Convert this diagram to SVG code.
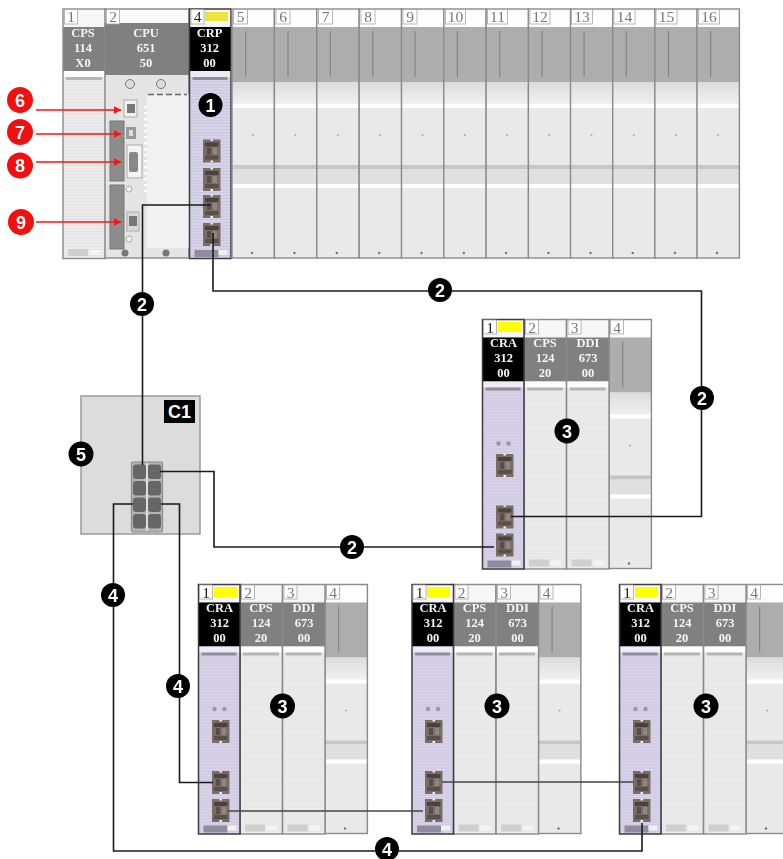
<svg xmlns="http://www.w3.org/2000/svg" width="783" height="859" viewBox="0 0 783 859">
<style>
.num{font:15.5px "Liberation Serif",serif;fill:#777;text-anchor:middle;filter:url(#tx)}
.numk{font:15.5px "Liberation Serif",serif;fill:#222;text-anchor:middle;filter:url(#tx)}
.hd{font:bold 12.5px "Liberation Serif",serif;fill:#f4f4f4;text-anchor:middle;filter:url(#tx)}
.bub{font:bold 18px "Liberation Sans",sans-serif;fill:#fff;text-anchor:middle}
.box{fill:#fff;stroke:#a5a5a5;stroke-width:.8}
.wire{fill:none;stroke:#1a1a1a;stroke-width:1.6}
.wire2{fill:none;stroke:#444;stroke-width:1.6}
.red{stroke:#f01818;stroke-width:1.5;fill:none;marker-end:url(#ah)}
</style>
<defs>
<filter id="soft" x="-5%" y="-5%" width="110%" height="110%"><feGaussianBlur stdDeviation="0.6"/></filter>
<filter id="tx" x="-10%" y="-10%" width="120%" height="120%"><feGaussianBlur stdDeviation="0.3"/></filter>
<marker id="ah" viewBox="0 0 8 8" refX="7.5" refY="4" markerWidth="8" markerHeight="8" markerUnits="userSpaceOnUse" orient="auto"><path d="M0 0L8 4L0 8Z" fill="#f01818"/></marker>
<pattern id="ln" width="4" height="3" patternUnits="userSpaceOnUse"><rect width="4" height="3" fill="#ebebeb"/><rect width="4" height=".8" fill="#e3e3e3"/></pattern>
<pattern id="lnp" width="4" height="3" patternUnits="userSpaceOnUse"><rect width="4" height="3" fill="#d6d2e8"/><rect width="4" height=".8" fill="#cbc6e0"/></pattern>
<linearGradient id="fade" x1="0" y1="0" x2="0" y2="1"><stop offset="0" stop-color="#dcdcdc"/><stop offset="1" stop-color="#f2f2f2"/></linearGradient>
<g id="empty">
<rect width="42.4" height="249" fill="#e9e9e9"/>
<rect y="0" width="42.4" height="18" fill="#fdfdfd"/>
<rect y="18" width="42.4" height="55" fill="#adadad"/>
<rect x="13" y="22" width="1.2" height="46" fill="#858585"/>
<rect y="73" width="42.4" height="24" fill="url(#fade)"/>
<rect y="95" width="42.4" height="4" fill="#fff"/>
<rect y="156" width="42.4" height="4" fill="#c6c6c6"/>
<rect y="160" width="42.4" height="15" fill="#e0e0e0"/>
<rect y="175" width="42.4" height="4" fill="#fff"/>
<circle cx="21" cy="126" r="1" fill="#aaa"/><circle cx="20" cy="244" r="1.2" fill="#777"/>
<rect width="42.4" height="249" fill="none" stroke="#8a8a8a" stroke-width="1.4"/>
</g>
<g id="gray">
<rect width="42.4" height="249.500" fill="url(#ln)"/>
<rect width="42.4" height="18" fill="#f6f6f6"/>
<rect y="18" width="42.4" height="44" fill="#808080"/>
<rect y="62" width="42.4" height="6" fill="#fff"/>
<rect x="3" y="68" width="36" height="3" fill="#b5b5b5"/>
<rect x="5" y="240" width="20" height="7" fill="#cfcfcf"/><rect x="27" y="241" width="10" height="5" fill="#f4f4f4"/>
<rect width="42.4" height="249.500" fill="none" stroke="#8a8a8a" stroke-width="1.4"/>
</g>
<g id="purple">
<rect width="41.500" height="249.500" fill="url(#lnp)"/>
<rect width="41.500" height="18" fill="#f6f6f6"/>
<rect y="18" width="41.500" height="44" fill="#000"/>
<rect y="62" width="41.500" height="6" fill="#eeeaf6"/>
<rect x="3" y="68" width="35" height="3" fill="#8f8c9c"/>
<rect x="5" y="241" width="24" height="7" fill="#8e8c9e"/><rect x="29" y="241" width="9" height="5" fill="#f0f0f0"/>
<rect width="41.500" height="249.500" fill="none" stroke="#3a3a3a" stroke-width="1.5"/>
</g>
<g id="port">
<rect width="17.500" height="23" fill="#7a6c66"/>
<rect x="2" y="3" width="13.500" height="4" fill="#4c4340"/>
<rect x="2" y="16" width="13.500" height="4" fill="#5a4f4a"/>
<rect x="4" y="8" width="4" height="7" fill="#584d48"/><rect x="10" y="8" width="4" height="7" fill="#92867f"/>
<rect x="7.500" y="0" width="2.500" height="1.500" fill="#f2f2f2"/><rect x="7.500" y="21" width="2.500" height="2" fill="#f2f2f2"/>
</g>
<g id="swp"><rect width="13" height="14.500" rx="3" fill="#666"/></g>
</defs>

<g id="rack-main">
<g filter="url(#soft)">
<use href="#gray" x="63" y="9"/>
<rect x="105" y="9" width="84" height="249" fill="#e4e4e4" stroke="#8a8a8a" stroke-width="1.4"/>
<rect x="106" y="10" width="82" height="13" fill="#fafafa"/>
<rect x="105" y="23" width="84" height="52" fill="#808080"/>
<rect x="147" y="94" width="42" height="154" fill="#f1f1f1"/>
<path d="M148 94.500H187" stroke="#666" stroke-width="1.500" stroke-dasharray="6 3"/>
<path d="M145.500 106V196" stroke="#fff" stroke-width="2.500" stroke-dasharray="2.500 3.500"/>
<rect x="110" y="121" width="14" height="60" fill="#8c8c8c" stroke="#777"/>
<rect x="110" y="185" width="14" height="64" fill="#8c8c8c" stroke="#777"/>
<rect x="124" y="100" width="13" height="17" fill="#f2f2f2" stroke="#aaa"/><rect x="127" y="104" width="8" height="9" fill="#777"/>
<rect x="126" y="127" width="10" height="12" fill="#9a9a9a"/><rect x="129" y="130" width="4" height="6" fill="#ddd"/>
<rect x="127" y="145" width="15" height="33" fill="#f4f4f4" stroke="#aaa"/><rect x="129" y="152" width="9" height="20" rx="2" fill="#888"/>
<rect x="127" y="212" width="12" height="19" fill="#d9d9d9" stroke="#aaa"/><rect x="129" y="216" width="8" height="10" fill="#777"/>
<circle cx="130" cy="84" r="4.500" fill="#ddd" stroke="#777"/><circle cx="161" cy="84" r="4.500" fill="#ddd" stroke="#777"/>
<circle cx="125" cy="253" r="3.500" fill="#777"/><circle cx="166" cy="253" r="3.500" fill="#777"/>
<circle cx="129" cy="189" r="3" fill="#f4f4f4" stroke="#aaa"/><circle cx="129" cy="239" r="3" fill="#f4f4f4" stroke="#aaa"/>
<use href="#purple" x="189.500" y="9"/>
<rect x="205" y="12" width="23" height="9" fill="#ece33c"/>
<use href="#port" x="203" y="139.500"/><use href="#port" x="203" y="168"/><use href="#port" x="203" y="195"/><use href="#port" x="203" y="223"/>
<use href="#empty" x="232" y="9"/><use href="#empty" x="274.400" y="9"/><use href="#empty" x="316.800" y="9"/><use href="#empty" x="359.200" y="9"/><use href="#empty" x="401.500" y="9"/><use href="#empty" x="443.800" y="9"/><use href="#empty" x="486.100" y="9"/><use href="#empty" x="528.400" y="9"/><use href="#empty" x="570.500" y="9"/><use href="#empty" x="612.700" y="9"/><use href="#empty" x="654.900" y="9"/><use href="#empty" x="697" y="9"/>
</g>
<rect class="box" x="64.500" y="9.500" width="13" height="14.500"/><rect class="box" x="106.500" y="9.500" width="13" height="14.500"/><rect class="box" x="191" y="9.500" width="13" height="14.500"/><rect class="box" x="233.500" y="9.500" width="14" height="14.500"/><rect class="box" x="276" y="9.500" width="14" height="14.500"/><rect class="box" x="318.500" y="9.500" width="14" height="14.500"/><rect class="box" x="361" y="9.500" width="14" height="14.500"/><rect class="box" x="403" y="9.500" width="14" height="14.500"/><rect class="box" x="445.500" y="9.500" width="20" height="14.500"/><rect class="box" x="487.500" y="9.500" width="20" height="14.500"/><rect class="box" x="530" y="9.500" width="20" height="14.500"/><rect class="box" x="571.500" y="9.500" width="21" height="14.500"/><rect class="box" x="614" y="9.500" width="21" height="14.500"/><rect class="box" x="656" y="9.500" width="21" height="14.500"/><rect class="box" x="698.500" y="9.500" width="21" height="14.500"/>
<text class="num" x="71" y="22">1</text><text class="num" x="113" y="22">2</text><text class="numk" x="197.500" y="22">4</text><text class="num" x="240.500" y="22">5</text><text class="num" x="283" y="22">6</text><text class="num" x="325.500" y="22">7</text><text class="num" x="368" y="22">8</text><text class="num" x="410" y="22">9</text><text class="num" x="455.500" y="22">10</text><text class="num" x="497.500" y="22">11</text><text class="num" x="540" y="22">12</text><text class="num" x="582" y="22">13</text><text class="num" x="624.500" y="22">14</text><text class="num" x="666.500" y="22">15</text><text class="num" x="709" y="22">16</text>
<text class="hd" x="83" y="36.500">CPS</text><text class="hd" x="83" y="51.500">114</text><text class="hd" x="83" y="66.500">X0</text>
<text class="hd" x="146" y="36.500">CPU</text><text class="hd" x="146" y="51.500">651</text><text class="hd" x="146" y="66.500">50</text>
<text class="hd" x="209.500" y="36.500">CRP</text><text class="hd" x="209.500" y="51.500">312</text><text class="hd" x="209.500" y="66.500">00</text>
</g>

<g id="rack-a">
<g filter="url(#soft)">
<use href="#empty" x="609" y="319.500"/><use href="#gray" x="524" y="319.500"/><use href="#gray" x="566.600" y="319.500"/><use href="#purple" x="482.500" y="319.500"/>
<rect x="498" y="322" width="23" height="10" fill="#ffff00"/><circle cx="498.500" cy="443.500" r="2.200" fill="#9a98a8"/><circle cx="508.500" cy="443.500" r="2.200" fill="#9a98a8"/>
<use href="#port" x="496" y="454"/><use href="#port" x="496" y="505.500"/><use href="#port" x="496" y="533.500"/>
</g>
<rect class="box" x="483.500" y="320" width="13" height="14"/><rect class="box" x="525.500" y="320" width="13" height="14"/><rect class="box" x="568" y="320" width="13" height="14"/><rect class="box" x="610.500" y="320" width="13" height="14"/>
<text class="numk" x="490" y="333">1</text><text class="num" x="532" y="333">2</text><text class="num" x="574.500" y="333">3</text><text class="num" x="617" y="333">4</text>
<text class="hd" x="503.500" y="347">CRA</text><text class="hd" x="503.500" y="362">312</text><text class="hd" x="503.500" y="377">00</text>
<text class="hd" x="545" y="347">CPS</text><text class="hd" x="545" y="362">124</text><text class="hd" x="545" y="377">20</text>
<text class="hd" x="588" y="347">DDI</text><text class="hd" x="588" y="362">673</text><text class="hd" x="588" y="377">00</text>
</g>

<g id="rack-b">
<g filter="url(#soft)">
<use href="#empty" x="325" y="584.500"/><use href="#gray" x="240" y="584.500"/><use href="#gray" x="282.600" y="584.500"/><use href="#purple" x="198.500" y="584.500"/>
<rect x="214" y="587" width="23" height="10" fill="#ffff00"/><circle cx="214.500" cy="709" r="2.200" fill="#9a98a8"/><circle cx="224.500" cy="709" r="2.200" fill="#9a98a8"/>
<use href="#port" x="212" y="720"/><use href="#port" x="212" y="771"/><use href="#port" x="212" y="799"/>
</g>
<rect class="box" x="199.500" y="585" width="13" height="14"/><rect class="box" x="241.500" y="585" width="13" height="14"/><rect class="box" x="284" y="585" width="13" height="14"/><rect class="box" x="326.500" y="585" width="13" height="14"/>
<text class="numk" x="206" y="598">1</text><text class="num" x="248" y="598">2</text><text class="num" x="290.500" y="598">3</text><text class="num" x="333" y="598">4</text>
<text class="hd" x="219.500" y="612">CRA</text><text class="hd" x="219.500" y="627">312</text><text class="hd" x="219.500" y="642">00</text>
<text class="hd" x="261" y="612">CPS</text><text class="hd" x="261" y="627">124</text><text class="hd" x="261" y="642">20</text>
<text class="hd" x="304" y="612">DDI</text><text class="hd" x="304" y="627">673</text><text class="hd" x="304" y="642">00</text>
</g>

<g id="rack-c">
<g filter="url(#soft)">
<use href="#empty" x="538.500" y="584.500"/><use href="#gray" x="453.500" y="584.500"/><use href="#gray" x="496.100" y="584.500"/><use href="#purple" x="412" y="584.500"/>
<rect x="427" y="587" width="23" height="10" fill="#ffff00"/><circle cx="428" cy="709" r="2.200" fill="#9a98a8"/><circle cx="438" cy="709" r="2.200" fill="#9a98a8"/>
<use href="#port" x="425" y="720"/><use href="#port" x="425" y="771"/><use href="#port" x="425" y="799"/>
</g>
<rect class="box" x="413" y="585" width="13" height="14"/><rect class="box" x="455" y="585" width="13" height="14"/><rect class="box" x="497.500" y="585" width="13" height="14"/><rect class="box" x="540" y="585" width="13" height="14"/>
<text class="numk" x="419.500" y="598">1</text><text class="num" x="461.500" y="598">2</text><text class="num" x="504" y="598">3</text><text class="num" x="546.500" y="598">4</text>
<text class="hd" x="433" y="612">CRA</text><text class="hd" x="433" y="627">312</text><text class="hd" x="433" y="642">00</text>
<text class="hd" x="474.500" y="612">CPS</text><text class="hd" x="474.500" y="627">124</text><text class="hd" x="474.500" y="642">20</text>
<text class="hd" x="517.500" y="612">DDI</text><text class="hd" x="517.500" y="627">673</text><text class="hd" x="517.500" y="642">00</text>
</g>

<g id="rack-d">
<g filter="url(#soft)">
<use href="#empty" x="746" y="584.500"/><use href="#gray" x="661" y="584.500"/><use href="#gray" x="703.600" y="584.500"/><use href="#purple" x="619.500" y="584.500"/>
<rect x="635" y="587" width="23" height="10" fill="#ffff00"/><circle cx="635.500" cy="709" r="2.200" fill="#9a98a8"/><circle cx="645.500" cy="709" r="2.200" fill="#9a98a8"/>
<use href="#port" x="633" y="720"/><use href="#port" x="633" y="771"/><use href="#port" x="633" y="799"/>
</g>
<rect class="box" x="620.500" y="585" width="13" height="14"/><rect class="box" x="662.500" y="585" width="13" height="14"/><rect class="box" x="705" y="585" width="13" height="14"/><rect class="box" x="747.500" y="585" width="13" height="14"/>
<text class="numk" x="627" y="598">1</text><text class="num" x="669" y="598">2</text><text class="num" x="711.500" y="598">3</text><text class="num" x="754" y="598">4</text>
<text class="hd" x="640.500" y="612">CRA</text><text class="hd" x="640.500" y="627">312</text><text class="hd" x="640.500" y="642">00</text>
<text class="hd" x="682" y="612">CPS</text><text class="hd" x="682" y="627">124</text><text class="hd" x="682" y="642">20</text>
<text class="hd" x="725" y="612">DDI</text><text class="hd" x="725" y="627">673</text><text class="hd" x="725" y="642">00</text>
</g>

<g id="switch-c1">
<rect x="81" y="396" width="119" height="138" fill="#dcdcdc" stroke="#9a9a9a" stroke-width="1.500"/>
<rect x="164" y="400" width="31" height="23" fill="#000"/>
<text x="179.500" y="418" font-family="Liberation Sans, sans-serif" font-weight="bold" font-size="18" fill="#fff" text-anchor="middle">C1</text>
<rect x="131.500" y="462" width="31" height="70" rx="1.500" fill="#b4b4b4" stroke="#8a8a8a" stroke-width="1.200"/>
<rect x="146.300" y="463" width="1.400" height="68" fill="#eee"/>
<use href="#swp" x="133" y="464.500"/><use href="#swp" x="148" y="464.500"/><use href="#swp" x="133" y="481"/><use href="#swp" x="148" y="481"/><use href="#swp" x="133" y="497.500"/><use href="#swp" x="148" y="497.500"/><use href="#swp" x="133" y="514"/><use href="#swp" x="148" y="514"/>
</g>

<g id="connectors">
<path class="wire" d="M211 205H142.500V465"/>
<path class="wire" d="M213 233V291H701.500V516.500H511"/>
<path class="wire" d="M160 471.500H214V547H494"/>
<path class="wire" d="M133 504H113.500V851H642V823"/>
<path class="wire" d="M161 504H179.500V782.500H213"/>
<path class="wire2" d="M228 811H423"/>
<path class="wire2" d="M442 782H633"/>
<path class="red" d="M36 110H121"/>
<path class="red" d="M36 134H121"/>
<path class="red" d="M36 162H121"/>
<path class="red" d="M36 222H121"/>
</g>

<g id="callout-1"><circle cx="210.500" cy="105" r="12" fill="#000"/><text class="bub" x="210.500" y="111.500">1</text></g>
<g id="callout-2a"><circle cx="142" cy="304" r="12" fill="#000"/><text class="bub" x="142" y="310.500">2</text></g>
<g id="callout-2b"><circle cx="440" cy="290" r="12" fill="#000"/><text class="bub" x="440" y="296.500">2</text></g>
<g id="callout-2c"><circle cx="702" cy="398" r="12" fill="#000"/><text class="bub" x="702" y="404.500">2</text></g>
<g id="callout-2d"><circle cx="352" cy="547" r="12" fill="#000"/><text class="bub" x="352" y="553.500">2</text></g>
<g id="callout-3a"><circle cx="567" cy="431" r="12.500" fill="#000"/><text class="bub" x="567" y="437.500">3</text></g>
<g id="callout-3b"><circle cx="282.500" cy="706" r="12.500" fill="#000"/><text class="bub" x="282.500" y="712.500">3</text></g>
<g id="callout-3c"><circle cx="497" cy="706" r="12.500" fill="#000"/><text class="bub" x="497" y="712.500">3</text></g>
<g id="callout-3d"><circle cx="706" cy="706" r="12.500" fill="#000"/><text class="bub" x="706" y="712.500">3</text></g>
<g id="callout-4a"><circle cx="113" cy="595" r="12" fill="#000"/><text class="bub" x="113" y="601.500">4</text></g>
<g id="callout-4b"><circle cx="178" cy="686" r="12" fill="#000"/><text class="bub" x="178" y="692.500">4</text></g>
<g id="callout-4c"><circle cx="387" cy="849" r="12" fill="#000"/><text class="bub" x="387" y="855.500">4</text></g>
<g id="callout-5"><circle cx="81" cy="454" r="12.500" fill="#000"/><text class="bub" x="81" y="460.500">5</text></g>
<g id="callout-6"><circle cx="20" cy="100" r="13" fill="#f01010"/><text class="bub" x="20" y="106.500">6</text></g>
<g id="callout-7"><circle cx="20" cy="132" r="13" fill="#f01010"/><text class="bub" x="20" y="138.500">7</text></g>
<g id="callout-8"><circle cx="20" cy="165.500" r="13" fill="#f01010"/><text class="bub" x="20" y="172">8</text></g>
<g id="callout-9"><circle cx="21" cy="222" r="13" fill="#f01010"/><text class="bub" x="21" y="228.500">9</text></g>
</svg>
